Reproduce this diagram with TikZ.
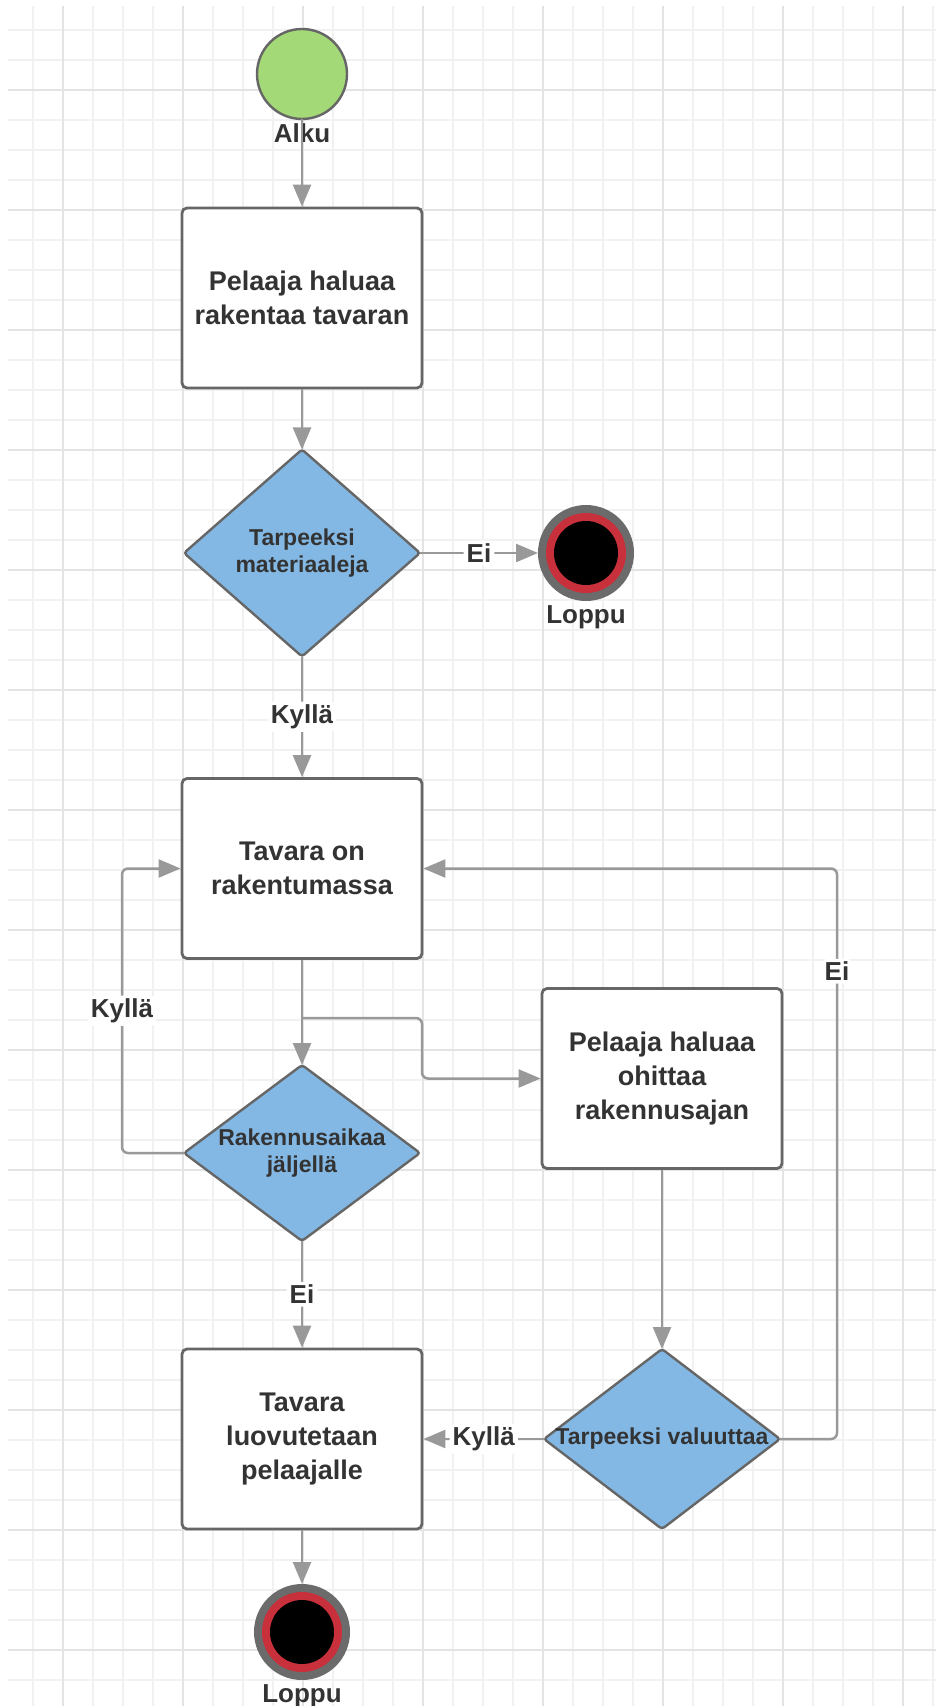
\documentclass[tikz,border=0pt]{standalone}
\usepackage{fontspec}
\setmainfont{Liberation Sans}
\usepackage{tikz}
\usetikzlibrary{shapes.geometric, arrows.meta, positioning}
\usepackage{xcolor}
\definecolor{lgreen}{HTML}{A3D977}
\definecolor{lblue}{HTML}{83B8E4}
\definecolor{lred}{HTML}{C8303B}
\definecolor{ringgray}{HTML}{6B6B6B}
\definecolor{lborder}{HTML}{666666}
\definecolor{lline}{HTML}{999999}
\definecolor{ltext}{HTML}{333333}
\definecolor{lgrid}{HTML}{F1F1F1}
\definecolor{lgridmajor}{HTML}{E4E4E4}
\tikzset{
dot/.style = {%
    circle, minimum size=#1,
    inner sep=0pt, outer sep=0pt},
    dot/.default = 45pt % diameter of the circle
}
\tikzset{
stepbox/.style = {%
    rectangle, rounded corners=2.5pt, draw=lborder, line width=1.4pt,
    fill=white, minimum width=120pt, minimum height=90pt, inner sep=0pt,
    align=center, text=ltext, font=\fontsize{13.5}{17}\selectfont\bfseries},
decision/.style = {%
    diamond, rounded corners=1.5pt, draw=lborder, line width=1.2pt,
    fill=lblue, minimum width=118pt, inner sep=0pt, outer sep=0pt},
dtext/.style = {%
    align=center, inner sep=0pt, text=ltext,
    font=\fontsize{11.5}{13.5}\selectfont\bfseries}
}
\begin{document}
\begin{tikzpicture}[x=0.5pt, y=-0.5pt,
        flow/.style = {draw=lline, line width=1.25pt, rounded corners=3pt,
            -{Triangle[length=11pt, width=9pt]}},
        lbl/.style = {inner sep=0pt, text=ltext,
            font=\fontsize{13}{15}\selectfont\bfseries},
        elabel/.style = {lbl, fill=white, inner sep=1.5pt}
    ]
        \useasboundingbox (0,0) rectangle (936,1706);

        % Background grid
        \foreach \x in {33,63,...,933}
            \draw[lgrid, line width=0.8pt] (\x,6) -- (\x,1706);
        \foreach \y in {30,60,...,1700}
            \draw[lgrid, line width=0.8pt] (8,\y) -- (936,\y);
        \foreach \x in {63,183,...,903}
            \draw[lgridmajor, line width=0.8pt] (\x,6) -- (\x,1706);
        \foreach \y in {90,210,...,1650}
            \draw[lgridmajor, line width=0.8pt] (8,\y) -- (936,\y);

        % Start dot
        \node[dot=45pt, fill=lgreen, draw=lborder, line width=1.2pt] at (302,74) (start) {};
        \node[lbl, below=2pt of start] (alku) {Alku};

        % Steps and decisions
        \node[stepbox] at (302,298) (build) {Pelaaja haluaa\\rakentaa tavaran};
        \node[decision, minimum height=103.5pt] at (302,553) (mats) {};
        \node[dtext] at (mats.center) (matstext) {Tarpeeksi\\materiaaleja};

        \node[stepbox] at (302,868.5) (building) {Tavara on\\rakentumassa};
        \node[decision, minimum height=88pt] at (302,1153) (timeleft) {};
        \node[dtext] at (timeleft.center) (timelefttext) {Rakennusaikaa\\jäljellä};

        \node[stepbox] at (662,1078.5) (skip) {Pelaaja haluaa\\ohittaa\\rakennusajan};
        \node[decision, minimum height=90pt] at (662,1439) (money) {};
        \node[dtext] at (money.center) (moneytext) {Tarpeeksi valuuttaa};

        \node[stepbox] at (302,1439) (handover) {Tavara\\luovutetaan\\pelaajalle};

        % End dots
        \node[dot=48pt, fill=ringgray] at (586,553) (stop1) {};
        \node[dot=40pt, fill=lred]     at (stop1.center) (stop1r) {};
        \node[dot=32pt, fill=black]    at (stop1.center) (stop1b) {};
        \node[lbl, below=2pt of stop1] (loppu1) {Loppu};

        \node[dot=48pt, fill=ringgray] at (302,1632) (stop2) {};
        \node[dot=40pt, fill=lred]     at (stop2.center) (stop2r) {};
        \node[dot=32pt, fill=black]    at (stop2.center) (stop2b) {};
        \node[lbl, below=2pt of stop2] (loppu2) {Loppu};

        % Bend points
        \coordinate (fork)     at (302,1018);
        \coordinate (forkbend) at (422,1078.5);
        \coordinate (yesturn)  at (122,868.5);
        \coordinate (noturn)   at (837,868.5);

        % Connectors
        \draw[flow] (start) -- (build);
        \draw[flow] (build) -- (mats);
        \draw[flow] (mats) -- node[elabel] {Ei} (stop1);
        \draw[flow] (mats) -- node[elabel] {Kyllä} (building);
        \draw[flow] (building) -- (timeleft);
        \draw[flow] (fork) -| (forkbend) -- (skip);
        \draw[flow] (timeleft.west) -| node[elabel, pos=0.75] {Kyllä} (yesturn) -- (building);
        \draw[flow] (timeleft) -- node[elabel] {Ei} (handover);
        \draw[flow] (skip) -- (money);
        \draw[flow] (money) -- node[elabel] {Kyllä} (handover);
        \draw[flow] (money.east) -| node[elabel, pos=0.91] {Ei} (noturn) -- (building);
        \draw[flow] (handover) -- (stop2);

    \end{tikzpicture}
\end{document}
